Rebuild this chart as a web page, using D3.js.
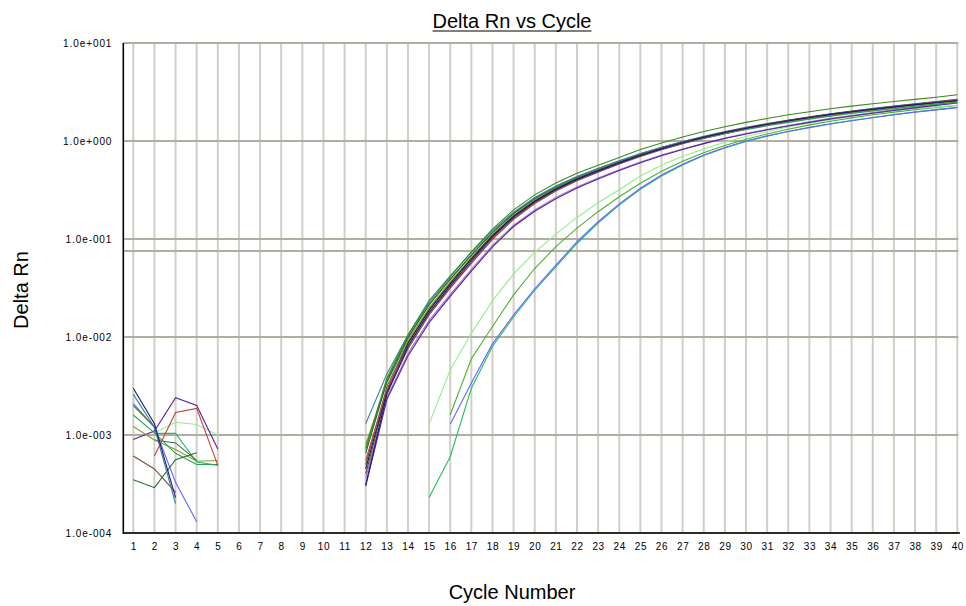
<!DOCTYPE html>
<html>
<head>
<meta charset="utf-8">
<title>Delta Rn vs Cycle</title>
<script src="https://cdn.jsdelivr.net/npm/d3@7"></script>
<style>
  html, body { margin: 0; padding: 0; background: #fff; }
  svg { display: block; }
  text { font-family: "Liberation Sans", Arial, sans-serif; fill: #000; }
</style>
</head>
<body>
<svg id="chart" width="966" height="606"></svg>
<script>
// Cycle categories and axis tick labels
const cycles = [1,2,3,4,5,6,7,8,9,10,11,12,13,14,15,16,17,18,19,20,
                21,22,23,24,25,26,27,28,29,30,31,32,33,34,35,36,37,38,39,40];
const yTickValues = [1e-4, 1e-3, 1e-2, 1e-1, 1, 10];
const yTickLabels = ["1.0e-004", "1.0e-003", "1.0e-002", "1.0e-001", "1.0e+000", "1.0e+001"];
const threshold = 0.0754;

// Delta Rn per well. "early" runs start at cycle 1 (or 2), "run" at the first positive cycle.
const wellA_early = [2.0e-3, 1.2e-3];
const wellA_run = [7.4e-4, 3.8e-3, 1.05e-2, 0.0225, 0.041, 0.074, 0.126, 0.198, 0.282, 0.372, 0.468, 0.566, 0.680, 0.82, 0.955, 1.10, 1.25, 1.40, 1.55, 1.70, 1.85, 1.99, 2.13, 2.27, 2.40, 2.53, 2.66, 2.80, 2.96];
const wellB_early = [2.6e-3, 1.2e-3, 2.0e-4];
const wellB_run = [1.3e-3, 4.2e-3, 1.05e-2, 0.0235, 0.042, 0.073, 0.122, 0.188, 0.265, 0.348, 0.435, 0.525, 0.63, 0.745, 0.865, 0.99, 1.12, 1.25, 1.38, 1.51, 1.64, 1.77, 1.90, 2.02, 2.14, 2.26, 2.38, 2.50, 2.62];
const wellC_early = [3.0e-3, 1.3e-3, 2.3e-4];
const wellC_run = [3.1e-4, 2.6e-3, 8.0e-3, 0.0178, 0.0335, 0.060, 0.105, 0.167, 0.240, 0.320, 0.405, 0.493, 0.597, 0.712, 0.833, 0.96, 1.09, 1.22, 1.35, 1.48, 1.61, 1.74, 1.87, 1.99, 2.11, 2.23, 2.35, 2.47, 2.59];
const wellD_early = [6.1e-4, 1.7e-3, 1.87e-3, 4.9e-4];
const wellD_run = [5.5e-4, 2.9e-3, 8.2e-3, 0.0176, 0.0325, 0.058, 0.101, 0.162, 0.236, 0.316, 0.402, 0.490, 0.595, 0.712, 0.835, 0.963, 1.095, 1.23, 1.36, 1.49, 1.62, 1.75, 1.88, 2.00, 2.12, 2.25, 2.37, 2.49, 2.61];
const wellE_early = [9.0e-4, 1.1e-3, 2.4e-3, 2.0e-3, 7.2e-4];
const wellE_run = [3.0e-4, 2.3e-3, 6.4e-3, 0.0140, 0.0260, 0.047, 0.083, 0.134, 0.192, 0.258, 0.332, 0.410, 0.500, 0.600, 0.708, 0.82, 0.94, 1.06, 1.18, 1.30, 1.42, 1.55, 1.68, 1.80, 1.92, 2.05, 2.18, 2.31, 2.44];
const wellF_run = [3.6e-4, 2.4e-3, 6.8e-3, 0.0148, 0.0272, 0.049, 0.086, 0.138, 0.198, 0.266, 0.340, 0.419, 0.510, 0.610, 0.718, 0.83, 0.95, 1.07, 1.19, 1.31, 1.44, 1.57, 1.70, 1.82, 1.95, 2.08, 2.21, 2.34, 2.47];
const wellG_run = [4.5e-4, 2.8e-3, 8.6e-3, 0.0188, 0.0350, 0.063, 0.108, 0.171, 0.245, 0.326, 0.412, 0.500, 0.603, 0.718, 0.838, 0.965, 1.095, 1.225, 1.355, 1.485, 1.615, 1.745, 1.875, 1.995, 2.115, 2.235, 2.355, 2.475, 2.595];
const wellH_early = [1.6e-3, 1.05e-3, 6.5e-4, 5.0e-4, 5.0e-4];
const wellH_run = [7.0e-4, 3.6e-3, 1.0e-2, 0.0215, 0.039, 0.069, 0.117, 0.182, 0.258, 0.340, 0.425, 0.512, 0.612, 0.722, 0.835, 0.952, 1.07, 1.19, 1.31, 1.43, 1.55, 1.67, 1.79, 1.91, 2.02, 2.14, 2.26, 2.37, 2.48];
const wellI_early = [1.22e-3, 8.9e-4, 7.1e-4, 5.4e-4, 5.5e-4];
const wellI_run = [8.0e-4, 3.4e-3, 9.2e-3, 0.0198, 0.0365, 0.065, 0.111, 0.175, 0.250, 0.331, 0.417, 0.505, 0.607, 0.720, 0.838, 0.960, 1.085, 1.21, 1.335, 1.46, 1.585, 1.71, 1.83, 1.95, 2.07, 2.19, 2.30, 2.41, 2.52];
const wellJ_early = [8.9e-4, 8.3e-4, 5.5e-4];
const wellJ_run = [5.0e-4, 3.1e-3, 8.8e-3, 0.0190, 0.0352, 0.0625, 0.107, 0.169, 0.242, 0.322, 0.406, 0.494, 0.596, 0.708, 0.826, 0.948, 1.072, 1.198, 1.324, 1.45, 1.575, 1.70, 1.82, 1.94, 2.06, 2.18, 2.29, 2.40, 2.51];
const wellK_early = [6.1e-4, 4.5e-4, 2.6e-4];
const wellK_run = [4.0e-4, 2.7e-3, 7.6e-3, 0.0168, 0.0315, 0.0565, 0.099, 0.159, 0.230, 0.309, 0.393, 0.480, 0.582, 0.695, 0.813, 0.936, 1.062, 1.19, 1.318, 1.446, 1.574, 1.70, 1.825, 1.95, 2.07, 2.19, 2.31, 2.43, 2.55];
const wellL_early = [3.5e-4, 2.9e-4, 5.6e-4, 6.6e-4];
const wellL_run = [6.5e-4, 3.5e-3, 9.8e-3, 0.0212, 0.0388, 0.0685, 0.116, 0.182, 0.259, 0.343, 0.432, 0.523, 0.626, 0.740, 0.858, 0.980, 1.105, 1.232, 1.36, 1.49, 1.62, 1.75, 1.88, 2.01, 2.14, 2.27, 2.40, 2.53, 2.66];
const wellM_early = [1.05e-3, 1.35e-3, 1.28e-3, 1.0e-3];
const wellM_run = [1.29e-3, 4.6e-3, 1.09e-2, 0.0235, 0.044, 0.073, 0.112, 0.166, 0.234, 0.318, 0.44, 0.565, 0.70, 0.83, 0.97, 1.11, 1.25, 1.39, 1.52, 1.65, 1.78, 1.90, 2.02, 2.13, 2.23, 2.32];
const wellN_run = [1.6e-3, 6.0e-3, 0.0128, 0.0269, 0.050, 0.0836, 0.129, 0.19, 0.27, 0.37, 0.49, 0.62, 0.76, 0.90, 1.04, 1.18, 1.32, 1.46, 1.59, 1.72, 1.85, 1.97, 2.09, 2.20, 2.30];
const wellO_early = [2.1e-3, 1.2e-3, 3.3e-4, 1.3e-4];
const wellO_run = [1.29e-3, 3.4e-3, 8.5e-3, 0.0168, 0.031, 0.054, 0.094, 0.150, 0.228, 0.33, 0.45, 0.58, 0.72, 0.86, 1.0, 1.13, 1.25, 1.37, 1.49, 1.61, 1.73, 1.85, 1.97, 2.08, 2.19];
const wellP_early = [1.04e-3, 1.04e-3, 5.3e-4, 4.9e-4];
const wellP_run = [2.3e-4, 6.0e-4, 3.0e-3, 8.0e-3, 0.0160, 0.030, 0.052, 0.090, 0.145, 0.222, 0.322, 0.44, 0.57, 0.71, 0.85, 0.99, 1.12, 1.25, 1.38, 1.50, 1.62, 1.74, 1.86, 1.98, 2.09, 2.21];

const wells = [
  { color: "#1ec060", runs: [[2, wellP_early], [15, wellP_run]] },
  { color: "#6464ff", runs: [[1, wellO_early], [16, wellO_run]] },
  { color: "#4cb030", runs: [[16, wellN_run]] },
  { color: "#8ef08e", runs: [[2, wellM_early], [15, wellM_run]] },
  { color: "#9a78d0", runs: [[12, wellF_run]] },
  { color: "#5b1f9e", runs: [[1, wellE_early], [12, wellE_run]] },
  { color: "#7a4a40", runs: [[1, wellK_early], [12, wellK_run]] },
  { color: "#3c6a50", runs: [[2, wellJ_early], [12, wellJ_run]] },
  { color: "#7f9f2f", runs: [[1, wellI_early], [12, wellI_run]] },
  { color: "#2e9e5e", runs: [[1, wellH_early], [12, wellH_run]] },
  { color: "#2a6a2a", runs: [[1, wellL_early], [12, wellL_run]] },
  { color: "#3f7f9f", runs: [[1, wellB_early], [12, wellB_run]] },
  { color: "#1e2430", runs: [[12, wellG_run]] },
  { color: "#c83c3c", runs: [[2, wellD_early], [12, wellD_run]] },
  { color: "#1a1a80", runs: [[1, wellC_early], [12, wellC_run]] },
  { color: "#3a8a1e", runs: [[1, wellA_early], [12, wellA_run]] }
];

const svg = d3.select("#chart");
const plotLeft = 123.3, plotRight = 957.3, plotTop = 43, plotBottom = 533;

const x = d3.scaleLinear().domain([0.527, 40]).range([plotLeft, plotRight]);
const y = d3.scaleLog().domain([1e-4, 10]).range([plotBottom, plotTop]);

// Vertical grid, one line per cycle
svg.append("g").selectAll("line").data(cycles).join("line")
  .attr("x1", d => x(d)).attr("x2", d => x(d))
  .attr("y1", plotTop).attr("y2", plotBottom)
  .attr("stroke", "#d2cec6").attr("stroke-width", 2);

// Horizontal grid at each decade, plus the threshold line
svg.append("g").selectAll("line").data(yTickValues.concat([threshold])).join("line")
  .attr("x1", plotLeft).attr("x2", plotRight + 1)
  .attr("y1", d => y(d)).attr("y2", d => y(d))
  .attr("stroke", "#b1ada3").attr("stroke-width", 2);

// Amplification curves
const line = d3.line().x(d => x(d.c)).y(d => y(d.v));
const g = svg.append("g").attr("fill", "none").attr("stroke-width", 1.1);
wells.forEach(w => {
  w.runs.forEach(([start, vals]) => {
    const pts = vals.map((v, i) => ({ c: start + i, v }));
    g.append("path").attr("d", line(pts)).attr("stroke", w.color);
  });
});

// Axes lines
svg.append("line").attr("x1", plotLeft).attr("x2", plotLeft).attr("y1", plotTop).attr("y2", plotBottom + 1)
  .attr("stroke", "#000").attr("stroke-width", 1.6);
svg.append("line").attr("x1", plotLeft).attr("x2", 960).attr("y1", plotBottom).attr("y2", plotBottom)
  .attr("stroke", "#000").attr("stroke-width", 1.6);

// Y tick labels
const yAxis = d3.axisLeft(y).tickValues(yTickValues)
  .tickFormat((d, i) => yTickLabels[i]).tickSize(0).tickPadding(11);
const ya = svg.append("g").attr("transform", `translate(${plotLeft},0)`).call(yAxis);
ya.select(".domain").remove();
ya.selectAll("text").attr("font-size", 10).attr("letter-spacing", "0.9px")
  .style("font-family", "'Liberation Sans', Arial, sans-serif").attr("fill", "#000");

// X tick labels
const xAxis = d3.axisBottom(x).tickValues(cycles).tickFormat(d3.format("d"))
  .tickSize(0).tickPadding(10);
const xa = svg.append("g").attr("transform", `translate(0,${plotBottom})`).call(xAxis);
xa.select(".domain").remove();
xa.selectAll("text").attr("font-size", 10).attr("letter-spacing", "0.6px")
  .style("font-family", "'Liberation Sans', Arial, sans-serif").attr("fill", "#000");

// Title with underline
const title = svg.append("text").attr("x", 512).attr("y", 28).attr("text-anchor", "middle")
  .attr("font-size", 20).text("Delta Rn vs Cycle");
const tb = title.node().getBBox();
svg.append("line").attr("x1", tb.x).attr("x2", tb.x + tb.width)
  .attr("y1", 31).attr("y2", 31).attr("stroke", "#000").attr("stroke-width", 1.2);

// Axis titles
svg.append("text").attr("x", 512).attr("y", 599).attr("text-anchor", "middle")
  .attr("font-size", 20).text("Cycle Number");
svg.append("text").attr("transform", "translate(28,290) rotate(-90)")
  .attr("text-anchor", "middle").attr("font-size", 20).text("Delta Rn");
</script>
</body>
</html>
